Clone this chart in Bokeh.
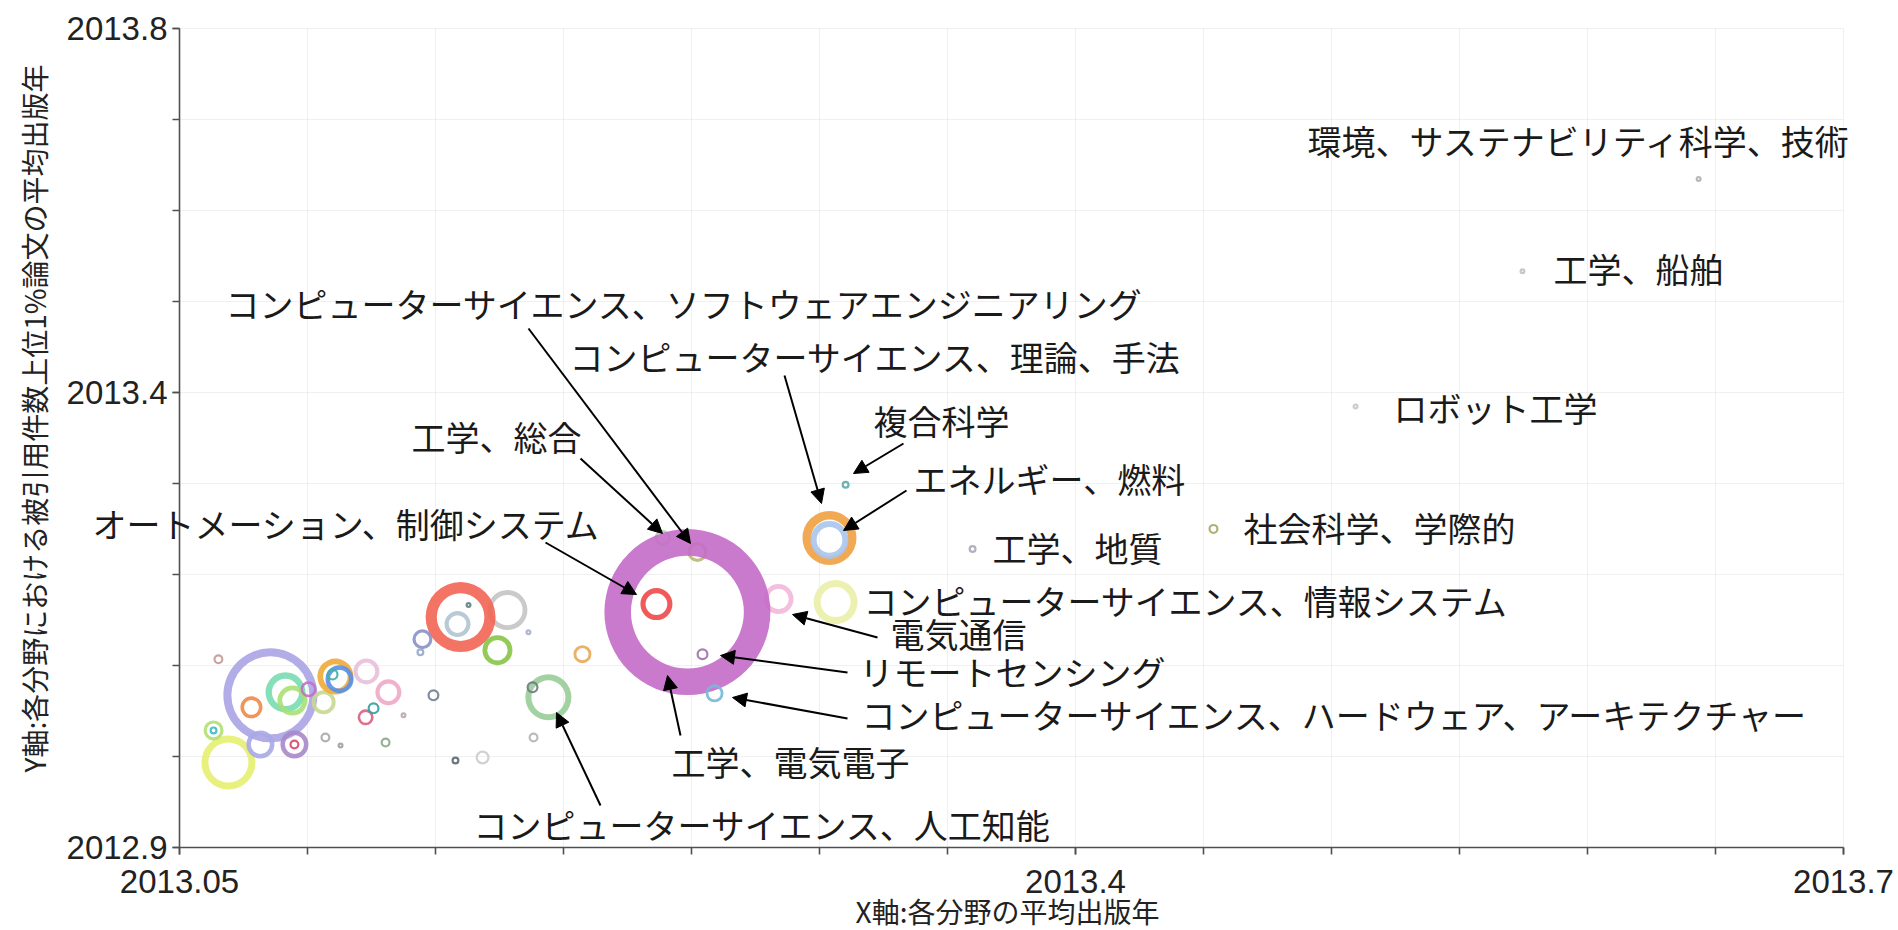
import math
from bokeh.plotting import figure
from bokeh.models import (ColumnDataSource, FixedTicker, Label, Arrow, NormalHead,
                          CustomJSTickFormatter, LinearAxis, Range1d)
from bokeh.embed import file_html
from bokeh.resources import INLINE

# ---------------- data ----------------
fields = [
    "工学、総合", "コンピューターサイエンス、ソフトウェアエンジニアリング", "電気通信", "工学、電気電子",
    "", "", "", "", "", "", "", "", "", "", "", "", "", "", "", "", "", "", "", "", "", "", "", "",
    "", "", "", "", "", "", "", "", "コンピューターサイエンス、人工知能", "", "", "", "", "", "",
    "オートメーション、制御システム", "リモートセンシング", "コンピューターサイエンス、ハードウェア、アーキテクチャー",
    "エネルギー、燃料", "コンピューターサイエンス、理論、手法", "複合科学", "コンピューターサイエンス、情報システム",
    "工学、地質", "社会科学、学際的", "環境、サステナビリティ科学、技術", "工学、船舶", "ロボット工学",
]
x_avg_year = [
    2013.2387, 2013.2523, 2013.2840, 2013.2484,
    2013.0855, 2013.0914, 2013.0941, 2013.0691, 2013.1063, 2013.0816, 2013.0949, 2013.0949,
    2013.0781, 2013.0633, 2013.0633, 2013.1109, 2013.1125, 2013.1098, 2013.1230, 2013.1316,
    2013.1227, 2013.1258, 2013.0652, 2013.1070, 2013.1129, 2013.1305, 2013.1375, 2013.1004,
    2013.1781, 2013.1598, 2013.1586, 2013.1629, 2013.1449, 2013.1441, 2013.1742, 2013.2074,
    2013.1941, 2013.1879, 2013.1492, 2013.1883, 2013.1578, 2013.1684, 2013.1863,
    2013.2363, 2013.2543, 2013.2590,
    2013.3039, 2013.3039, 2013.3102, 2013.3063,
    2013.3598, 2013.4539, 2013.6434, 2013.5746, 2013.5094,
]
y_top1_year = [
    2013.2402, 2013.2248, 2013.1730, 2013.1587,
    2013.0672, 2013.0705, 2013.0615, 2012.9934, 2013.0595, 2013.0132, 2013.0132, 2013.0132,
    2013.0540, 2013.0287, 2013.0287, 2013.0879, 2013.0850, 2013.0900, 2013.0935, 2013.0705,
    2013.0430, 2013.0529, 2013.1069, 2013.0209, 2013.0121, 2013.0154, 2013.0452, 2013.0739,
    2013.1609, 2013.1532, 2013.1455, 2013.1664, 2013.1289, 2013.1146, 2013.1168, 2013.1124,
    2013.0650, 2013.0760, 2013.0672, 2013.0209, 2012.9956, 2012.9989, 2013.1366,
    2013.1675, 2013.1124, 2013.0694,
    2013.2402, 2013.2380, 2013.2986, 2013.1697,
    2013.2281, 2013.2501, 2013.6347, 2013.5333, 2013.3846,
]
paper_counts = [
    64, 100, 225, 6890,
    2210, 400, 225, 730, 144, 196, 196, 25, 121, 100, 16, 324, 196, 36, 169, 169,
    64, 36, 25, 25, 9, 25, 9, 64,
    400, 1225, 169, 9, 100, 16, 225, 81, 529, 36, 36, 25, 16, 49, 9,
    256, 36, 81,
    730, 361, 16, 484,
    16, 25, 9, 9, 9,
]
x_ticks = [2013.05, 2013.4, 2013.7]
x_tick_labels = ["2013.05", "2013.4", "2013.7"]
y_ticks = [2012.9, 2013.4, 2013.8]
y_tick_labels = ["2012.9", "2013.4", "2013.8"]
x_minor = [round(2013.05 + 0.05 * i, 2) for i in range(14)]
y_minor = [round(2012.9 + 0.1 * i, 1) for i in range(10)]
x_title = "X軸:各分野の平均出版年"
y_title = "Y軸:各分野における被引用件数上位1%論文の平均出版年"

# ---------------- styles ----------------
ring_colors = [
    "#a8d8a0", "#b8b878", "#f2b8dc", "#c46cc8",
    "#aaa4e4", "#78dcb0", "#a8e078", "#e6f070", "#c8d890", "#a8a8e8", "#a888c8", "#d84868",
    "#f08848", "#b0e070", "#40b8c0", "#f0a838", "#5890e8", "#40b0a0", "#e8c0d8", "#f0a8c8",
    "#d86080", "#30a0a0", "#c89898", "#a8a8a8", "#a0a0a0", "#88a888", "#b8a8a8", "#c070c8",
    "#c4c4c4", "#f26454", "#b0c4d4", "#608080", "#8890c8", "#98a8c8", "#88c448", "#e8a858",
    "#98cc98", "#707880", "#708090", "#b4b4b4", "#606870", "#cccccc", "#a8b0c8",
    "#f04848", "#a070a8", "#78b8d8",
    "#f0a040", "#a8c4ec", "#60a8a8", "#eaf0a8",
    "#a8a8b8", "#a8a868", "#b0b0b0", "#c0c0c8", "#c8c8c8",
]
thin_rings = {4: 0.83, 28: 0.76, 36: 0.74, 7: 0.74}   # index -> inner/outer ratio

r_out = [math.sqrt(c) for c in paper_counts]
r_in = []
for i, r in enumerate(r_out):
    if i in thin_rings:
        r_in.append(r * thin_rings[i])
    else:
        r_in.append(max(r - max(0.32 * r, 2.2), 0.8))

src = ColumnDataSource(dict(x=x_avg_year, y=y_top1_year, field=fields,
                            r_out=r_out, r_in=r_in, color=ring_colors))

# frame geometry (px) of the plotting area inside a 1898x930 canvas
W, H = 1898, 930
X0, X1, Y0, Y1 = 2013.05, 2013.7, 2012.9, 2013.8
FL, FT, FR, FB = 179, 28, 1843, 847
sx = (X1 - X0) / (FR - FL)
sy = (Y1 - Y0) / (FB - FT)

p = figure(width=W, height=H, output_backend="svg", toolbar_location=None, title=None,
           x_range=Range1d(X0 - FL * sx, X1 + (W - FR) * sx),
           y_range=Range1d(Y0 - (H - FB) * sy, Y1 + FT * sy),
           x_axis_type=None, y_axis_type=None, min_border=0,
           background_fill_color="white", border_fill_color="white")
p.outline_line_color = None

# faint grid
p.segment(x0=x_minor, y0=[Y0] * len(x_minor), x1=x_minor, y1=[Y1] * len(x_minor),
          line_color="#e6e6e6", line_alpha=0.6, line_width=1)
p.segment(x0=[X0] * len(y_minor), y0=y_minor, x1=[X1] * len(y_minor), y1=y_minor,
          line_color="#e6e6e6", line_alpha=0.6, line_width=1)

p.annulus(x="x", y="y", inner_radius="r_in", outer_radius="r_out",
          inner_radius_units="screen", outer_radius_units="screen",
          fill_color="color", fill_alpha=0.9, line_color=None, source=src)

# axes
fmt_code = """
let best = 0, d = Infinity;
for (let i = 0; i < tv.length; i++) { const e = Math.abs(tv[i] - tick); if (e < d) { d = e; best = i; } }
return tl[best];
"""
xaxis = LinearAxis(fixed_location=Y0, bounds=(X0, X1),
                   ticker=FixedTicker(ticks=x_ticks, minor_ticks=x_minor),
                   formatter=CustomJSTickFormatter(args=dict(tv=x_ticks, tl=x_tick_labels), code=fmt_code))
yaxis = LinearAxis(fixed_location=X0, bounds=(Y0, Y1),
                   ticker=FixedTicker(ticks=y_ticks, minor_ticks=y_minor),
                   formatter=CustomJSTickFormatter(args=dict(tv=y_ticks, tl=y_tick_labels), code=fmt_code))
for ax in (xaxis, yaxis):
    ax.axis_line_color = "#505050"
    ax.axis_line_width = 1.6
    ax.major_tick_line_color = "#505050"
    ax.minor_tick_line_color = "#505050"
    ax.major_tick_line_width = 1.6
    ax.minor_tick_line_width = 1.6
    ax.major_tick_in = 0
    ax.major_tick_out = 7
    ax.minor_tick_in = 0
    ax.minor_tick_out = 7
    ax.major_label_text_font = "Liberation Sans"
    ax.major_label_text_font_size = "33px"
    ax.major_label_text_color = "#222222"
xaxis.major_label_standoff = 15
yaxis.major_label_standoff = 5
p.add_layout(xaxis, "below")
p.add_layout(yaxis, "left")

# ---------------- annotations (placed in screen pixels, converted to data) ----------------
def dx(px):
    return X0 + (px - FL) * sx

def dy(py):
    return Y1 - (py - FT) * sy

p.add_layout(Label(x=dx(1007), y=dy(910), text=x_title, text_font="Noto Sans CJK JP",
                   text_font_size="28px", text_color="#222222",
                   text_align="center", text_baseline="middle"))
p.add_layout(Label(x=dx(33), y=dy(418), text=y_title, text_font="Noto Sans CJK JP",
                   text_font_size="28px", text_color="#222222", angle=math.pi / 2,
                   text_align="center", text_baseline="middle"))

labels = [
    ("コンピューターサイエンス、ソフトウェアエンジニアリング", 225, 303),
    ("コンピューターサイエンス、理論、手法", 569, 356),
    ("複合科学", 873, 420),
    ("エネルギー、燃料", 913, 478),
    ("工学、総合", 411, 436),
    ("オートメーション、制御システム", 92, 523),
    ("コンピューターサイエンス、情報システム", 863, 600),
    ("電気通信", 890, 633),
    ("リモートセンシング", 859, 671),
    ("コンピューターサイエンス、ハードウェア、アーキテクチャー", 861, 714),
    ("工学、電気電子", 671, 761),
    ("コンピューターサイエンス、人工知能", 473, 824),
    ("環境、サステナビリティ科学、技術", 1307, 140),
    ("工学、船舶", 1553, 268),
    ("ロボット工学", 1393, 407),
    ("工学、地質", 992, 547),
    ("社会科学、学際的", 1243, 527),
]
for txt, lx, ly in labels:
    p.add_layout(Label(x=dx(lx), y=dy(ly), text=txt, text_font="Noto Sans CJK JP",
                       text_font_size="34px", text_color="#1a1a1a",
                       text_align="left", text_baseline="middle"))

arrows = [
    (528, 328, 690, 543),
    (784, 375, 821, 503),
    (903, 443, 853, 473),
    (906, 490, 843, 530),
    (580, 458, 662, 533),
    (545, 542, 636, 594),
    (877, 637, 792, 614),
    (847, 672, 720, 655),
    (847, 718, 732, 697),
    (680, 735, 667, 675),
    (600, 805, 556, 712),
]
for ax0, ay0, ax1, ay1 in arrows:
    p.add_layout(Arrow(end=NormalHead(size=14, fill_color="black", line_color="black", line_width=1),
                       x_start=dx(ax0), y_start=dy(ay0), x_end=dx(ax1), y_end=dy(ay1),
                       line_color="black", line_width=2))

open("out.html", "w").write(file_html(p, INLINE))
